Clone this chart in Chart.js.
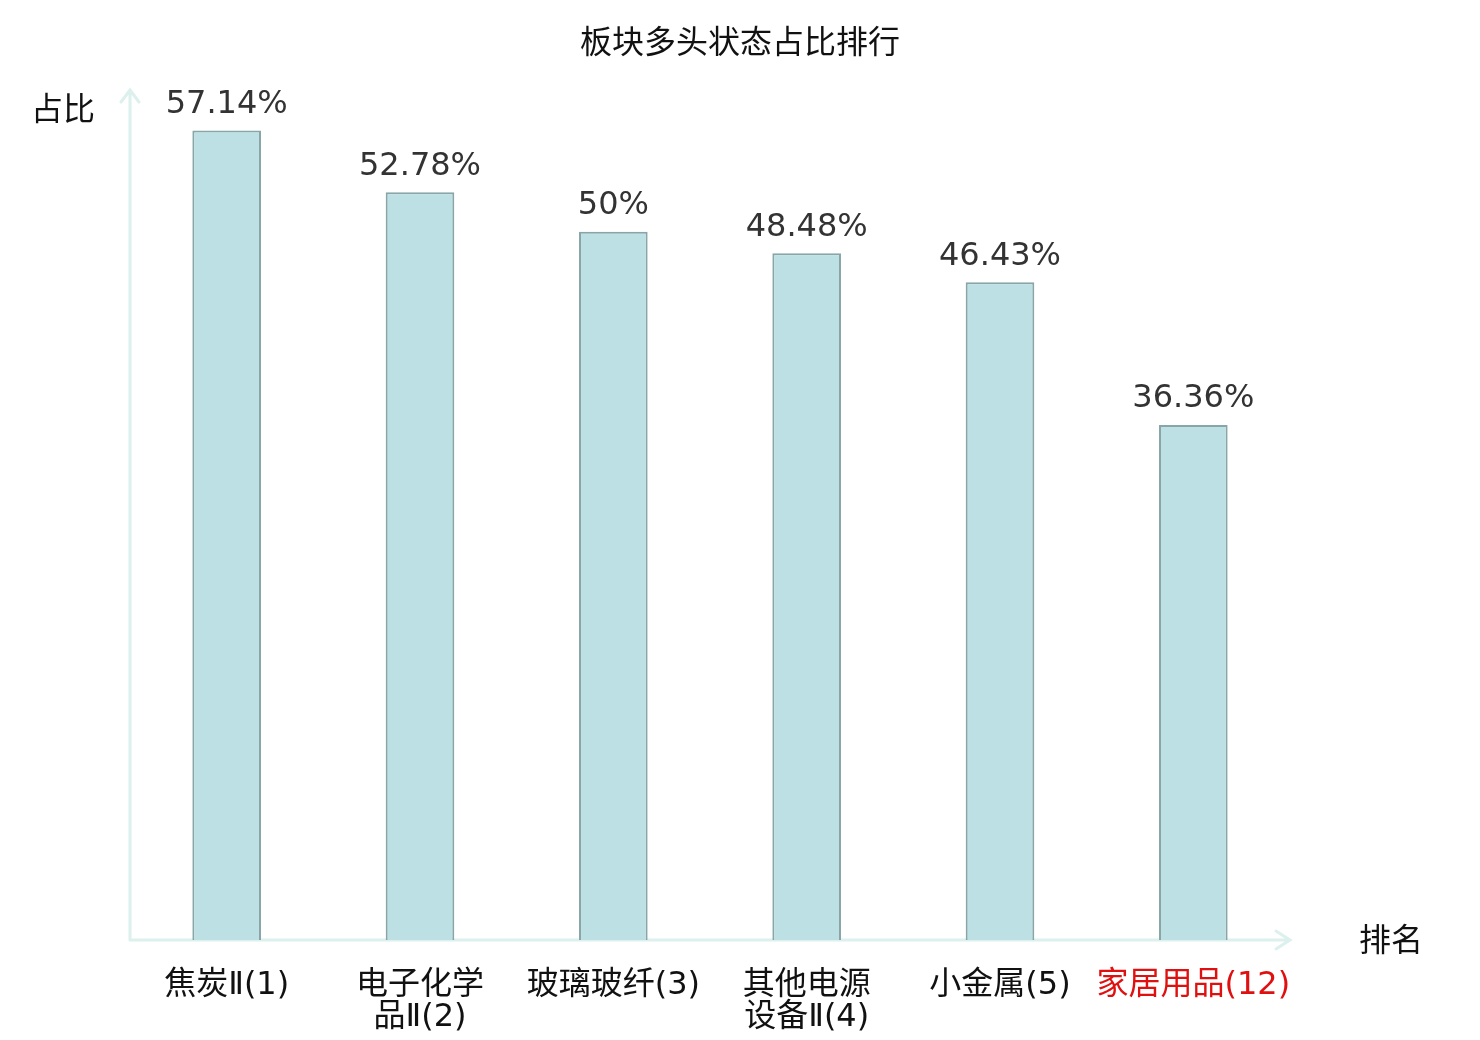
<!DOCTYPE html>
<html>
<head>
<meta charset="utf-8">
<script src="https://cdn.jsdelivr.net/npm/chart.js@4/dist/chart.umd.min.js"></script>
<style>
  html, body { margin: 0; padding: 0; background: #fff; }
  canvas { display: block; }
</style>
</head>
<body>
<canvas id="rank-chart" width="1480" height="1040"></canvas>
<script>
// categories and values
const categories = [
    ['焦炭Ⅱ(1)'],
    ['电子化学', '品Ⅱ(2)'],
    ['玻璃玻纤(3)'],
    ['其他电源', '设备Ⅱ(4)'],
    ['小金属(5)'],
    ['家居用品(12)']
]
const shares = [57.14, 52.78, 50, 48.48, 46.43, 36.36]
const shareLabels = ['57.14%', '52.78%', '50%', '48.48%', '46.43%', '36.36%']
const highlightIndex = 5

const FONT = '"DejaVu Sans", "Noto Sans CJK SC", sans-serif'

// axes with arrows, title, axis names and value labels
const decorations = {
    id: 'decorations',
    beforeDatasetsDraw(chart) {
        const {ctx, chartArea: a} = chart
        ctx.save()
        ctx.strokeStyle = '#dcf0ed'
        ctx.lineWidth = 3
        ctx.lineCap = 'round'
        ctx.beginPath()
        ctx.moveTo(a.left, a.bottom)
        ctx.lineTo(a.left, a.top)
        ctx.moveTo(a.left - 9, a.top + 12)
        ctx.lineTo(a.left, a.top)
        ctx.lineTo(a.left + 9, a.top + 12)
        ctx.moveTo(a.left, a.bottom)
        ctx.lineTo(a.right, a.bottom)
        ctx.moveTo(a.right - 14, a.bottom - 9)
        ctx.lineTo(a.right, a.bottom)
        ctx.lineTo(a.right - 14, a.bottom + 9)
        ctx.stroke()
        ctx.restore()
    },
    afterDatasetsDraw(chart) {
        const {ctx, chartArea: a} = chart
        ctx.save()
        ctx.font = '32px ' + FONT
        ctx.textAlign = 'center'
        ctx.textBaseline = 'middle'
        ctx.fillStyle = '#111'
        ctx.fillText('板块多头状态占比排行', chart.width / 2, 45)
        ctx.fillText('占比', 63, 112)
        ctx.fillText('排名', 1391, 943)

        ctx.fillStyle = '#333'
        ctx.textBaseline = 'bottom'
        chart.getDatasetMeta(0).data.forEach(function(bar, i) {
            ctx.fillText(shareLabels[i], bar.x, bar.y - 10)
        })
        ctx.restore()
    }
}

let ctx = document.querySelector('#rank-chart').getContext('2d')

let rankChart = new Chart(ctx, {
    type: 'bar',
    data: {
        labels: categories,
        datasets: [
            {
                label: '占比',
                data: shares,
                backgroundColor: '#bce0e3',
                borderColor: '#88a5a8',
                borderWidth: 2,
                categoryPercentage: 1,
                barPercentage: 0.355
            }
        ]
    },
    options: {
        responsive: false,
        animation: false,
        devicePixelRatio: 1,
        layout: {padding: {left: 130, right: 190, top: 90, bottom: 0}},
        plugins: {
            legend: {display: false},
            title: {display: false},
            tooltip: {enabled: false}
        },
        scales: {
            x: {
                grid: {display: false, drawTicks: false},
                border: {display: false},
                ticks: {
                    padding: 30,
                    maxRotation: 0,
                    autoSkip: false,
                    font: {size: 32, family: FONT, lineHeight: 1.0},
                    color: function(c) { return c.index === highlightIndex ? '#e01010' : '#111' }
                },
                afterFit: function(scale) { scale.height = 100 }
            },
            y: {
                display: false,
                min: 0,
                max: 60
            }
        }
    },
    plugins: [decorations]
})
</script>
</body>
</html>
